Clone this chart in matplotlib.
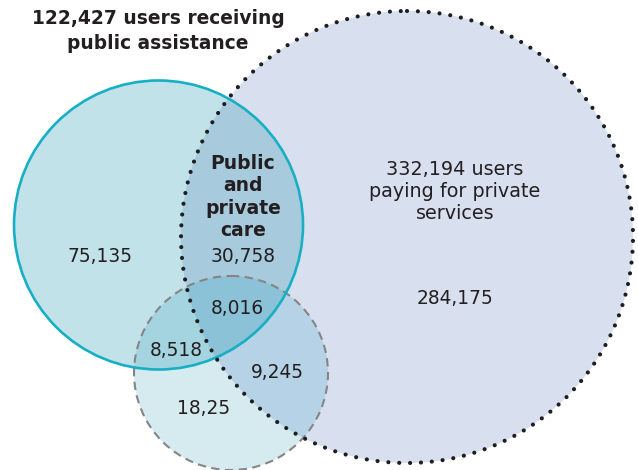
import numpy as np
import matplotlib.pyplot as plt
from matplotlib.patches import Ellipse

# ==========================================
# data: users in each region of the diagram
# ==========================================
public_total = "122,427"
private_total = "332,194"
region_names = ["public only", "public and private", "all three", "public and third",
                "private and third", "third only", "private only"]
region_values = ["75,135", "30,758", "8,016", "8,518", "9,245", "18,25", "284,175"]

# shape geometry in pixel space (x, y, rx, ry)
C_PUBLIC = (158.5, 225.0, 144.5, 144.5)
C_PRIVATE = (407.0, 237.0, 226.0, 226.0)
C_THIRD = (231.0, 373.0, 97.0, 97.0)

W, H = 638, 470
TXT = "#231f20"

# region colours
COL = {
    (1, 0, 0): "#c1e2e9",
    (0, 1, 0): "#d9e0f0",
    (0, 0, 1): "#d6ebef",
    (1, 1, 0): "#a8cadd",
    (1, 0, 1): "#a4d5e0",
    (0, 1, 1): "#b6d3e6",
    (1, 1, 1): "#8dc2d8",
}


def hex_rgb(h):
    h = h.lstrip('#')
    return [int(h[i:i + 2], 16) / 255 for i in (0, 2, 4)]


def inside(c, xx, yy):
    return ((xx - c[0]) / c[2]) ** 2 + ((yy - c[1]) / c[3]) ** 2 <= 1


def outline(c, **kw):
    return Ellipse(c[:2], 2 * c[2], 2 * c[3], fill=False, **kw)


fig = plt.figure(figsize=(W / 100, H / 100), dpi=100)
ax = fig.add_axes([0, 0, 1, 1])
ax.set_xlim(0, W)
ax.set_ylim(H, 0)
ax.axis('off')

# fill the regions as a raster (supersampled a bit)
ss = 3
xs = (np.arange(W * ss) + 0.5) / ss
ys = (np.arange(H * ss) + 0.5) / ss
xx, yy = np.meshgrid(xs, ys)
a = inside(C_PUBLIC, xx, yy)
b = inside(C_PRIVATE, xx, yy)
c = inside(C_THIRD, xx, yy)
img = np.ones((H * ss, W * ss, 3))
for key, col in COL.items():
    m = (a == bool(key[0])) & (b == bool(key[1])) & (c == bool(key[2]))
    img[m] = hex_rgb(col)
img = img.reshape(H, ss, W, ss, 3).mean(axis=(1, 3))
ax.imshow(img, extent=(0, W, H, 0), interpolation='nearest', zorder=1)

# outlines
ax.add_patch(outline(C_THIRD, ec="#858585", lw=1.5, ls=(0, (4, 2.6)), zorder=3))
ax.add_patch(outline(C_PUBLIC, ec="#17afc3", lw=1.9, zorder=4))
ax.add_patch(outline(C_PRIVATE, ec="#1e1e1e", lw=3.0, ls=(0, (0.01, 2.6)),
                     capstyle='round', joinstyle='round', zorder=5))

fam = ["DejaVu Sans"]
ax.text(158, 31, f"{public_total} users receiving\npublic assistance", ha='center', va='center',
        fontsize=13.4, fontweight='bold', color=TXT, family=fam, linespacing=1.4, zorder=6)
ax.text(455, 191.5, f"{private_total} users\npaying for private\nservices", ha='center', va='center',
        fontsize=13.8, color=TXT, family=fam, linespacing=1.21, zorder=6)
ax.text(243, 197, "Public\nand\nprivate\ncare", ha='center', va='center',
        fontsize=13.5, fontweight='bold', color=TXT, family=fam, linespacing=1.24, zorder=6)

label_pos = [(100, 257), (243, 257), (237, 308), (176, 351), (277, 372), (204, 409), (455, 298)]
for (px, py), v in zip(label_pos, region_values):
    ax.text(px, py, v, ha='center', va='center', fontsize=13.4, color=TXT, family=fam, zorder=6)

fig.savefig("out.png", dpi=100)
